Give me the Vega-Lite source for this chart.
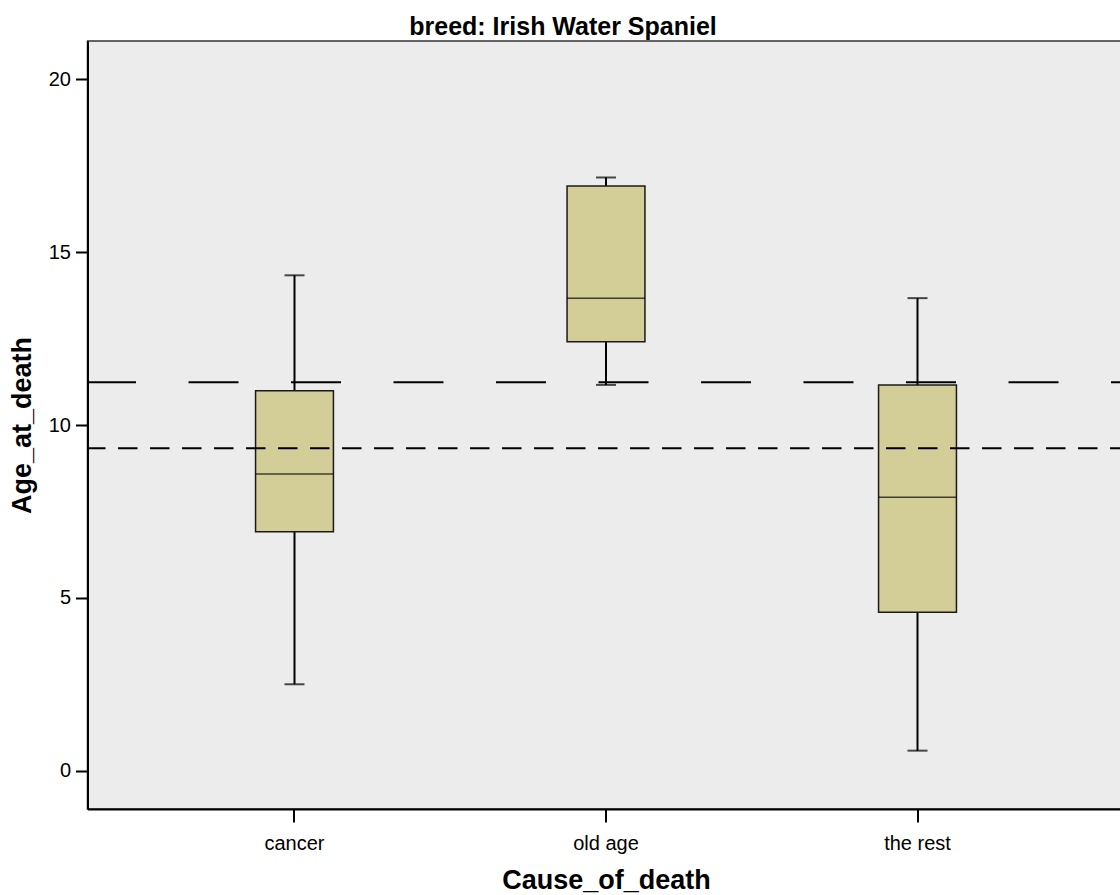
{
  "$schema": "https://vega.github.io/schema/vega-lite/v6.json",
  "autosize": "none",
  "padding": {"left": 87.5, "top": 41, "right": 0, "bottom": 86},
  "width": 1037,
  "height": 768,
  "background": "white",
  "title": {"text": "breed: Irish Water Spaniel", "font": "Liberation Sans", "fontSize": 25, "fontWeight": "bold", "color": "black", "anchor": "middle", "frame": "group", "baseline": "alphabetic", "offset": 5, "dx": -43, "dy": 24},
  "config": {
    "font": "Liberation Sans",
    "view": {"fill": "#ECECEC", "stroke": "#333333", "strokeWidth": 1.5},
    "axis": {"grid": false, "domainColor": "black", "domainWidth": 2, "tickColor": "black", "tickWidth": 2, "labelColor": "black", "labelFontSize": 20, "labelFont": "Liberation Sans", "titleFont": "Liberation Sans", "titleFontSize": 27, "titleFontWeight": "bold", "titleColor": "black"}
  },
  "datasets": {
    "boxes": [
      {"cause": "cancer", "lo": 2.50, "q1": 6.91, "med": 8.58, "q3": 10.99, "hi": 14.33},
      {"cause": "old age", "lo": 11.16, "q1": 12.41, "med": 13.67, "q3": 16.91, "hi": 17.16},
      {"cause": "the rest", "lo": 0.58, "q1": 4.58, "med": 7.91, "q3": 11.16, "hi": 13.67}
    ],
    "refs": [
      {"kind": "long", "ref": 11.24},
      {"kind": "short", "ref": 9.33}
    ]
  },
  "layer": [
    {
      "data": {"name": "boxes"},
      "encoding": {
        "x": {"field": "cause", "type": "nominal", "sort": ["cancer", "old age", "the rest"],
              "scale": {"paddingOuter": 0.1645, "paddingInner": 0},
              "axis": {"title": "Cause_of_death", "labelAngle": 0, "tickSize": 13, "labelBaseline": "alphabetic", "labelPadding": 27, "titleY": 79.5, "titleBaseline": "alphabetic"}}
      },
      "layer": [
        {
          "mark": {"type": "rule", "color": "black", "strokeWidth": 2},
          "encoding": {
            "y": {"field": "lo", "type": "quantitative", "title": "Age_at_death",
                  "scale": {"domain": [-1.108, 21.108], "nice": false, "zero": false},
                  "axis": {"values": [0, 5, 10, 15, 20], "tickSize": 12, "labelPadding": 5, "titleX": -57, "titleY": 384, "titleAngle": -90, "titleBaseline": "alphabetic", "titleAlign": "center"}},
            "y2": {"field": "hi"}
          }
        },
        {
          "mark": {"type": "bar", "fill": "#D3CE97", "stroke": "#1a1a1a", "strokeWidth": 1.5, "width": {"band": 0.25}},
          "encoding": {
            "y": {"field": "q1", "type": "quantitative", "title": "Age_at_death"},
            "y2": {"field": "q3"}
          }
        },
        {
          "mark": {"type": "tick", "color": "black", "size": 78, "thickness": 1.5, "orient": "horizontal"},
          "encoding": {"y": {"field": "med", "type": "quantitative", "title": "Age_at_death"}}
        },
        {
          "mark": {"type": "tick", "color": "black", "size": 20, "thickness": 2, "orient": "horizontal"},
          "encoding": {"y": {"field": "lo", "type": "quantitative", "title": "Age_at_death"}}
        },
        {
          "mark": {"type": "tick", "color": "black", "size": 20, "thickness": 2, "orient": "horizontal"},
          "encoding": {"y": {"field": "hi", "type": "quantitative", "title": "Age_at_death"}}
        }
      ]
    },
    {
      "data": {"name": "refs"},
      "transform": [{"filter": "datum.kind === 'long'"}],
      "mark": {"type": "rule", "color": "black", "strokeWidth": 2, "strokeDash": [50, 52.5], "strokeDashOffset": 36.5},
      "encoding": {"y": {"field": "ref", "type": "quantitative", "title": "Age_at_death"}}
    },
    {
      "data": {"name": "refs"},
      "transform": [{"filter": "datum.kind === 'short'"}],
      "mark": {"type": "rule", "color": "black", "strokeWidth": 2, "strokeDash": [19.5, 12.5], "strokeDashOffset": 5},
      "encoding": {"y": {"field": "ref", "type": "quantitative", "title": "Age_at_death"}}
    }
  ]
}
